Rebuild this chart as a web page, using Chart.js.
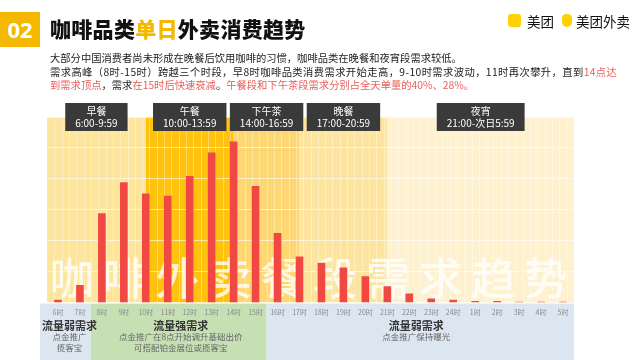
<!DOCTYPE html>
<html>
<head>
<meta charset="utf-8">
<script src="https://cdn.jsdelivr.net/npm/chart.js@4"></script>
<style>
  body { margin: 0; width: 640px; height: 360px; background: #fff; overflow: hidden; position: relative;
         font-family: "Noto Sans CJK SC", "Noto Sans", sans-serif; }
  #myChart { position: absolute; left: 0; top: 0; }
  .num { position: absolute; left: 0; top: 12px; width: 40px; height: 35px; background: #F5B800; color: #fff;
         font: 700 22px "Open Sans", "Noto Sans", sans-serif; line-height: 35px; text-align: center; }
  .title { position: absolute; left: 50px; top: 13px; font-size: 21px; font-weight: 900; color: #111; line-height: 30px;
           letter-spacing: 0.3px; }
  .title span { color: #F5B800; }
  .desc { position: absolute; left: 50px; top: 51px; font-size: 10.3px; line-height: 13.5px; color: #222; white-space: nowrap; }
  .desc .l2 { letter-spacing: 0.4px; }
  .desc .r { color: #EA5E5A; }
  .logo { position: absolute; top: 13px; height: 16px; font-size: 13.5px; line-height: 16px; color: #111; }
  .ico { position: absolute; top: 14px; background: #FFD100; border-radius: 3px; }
</style>
</head>
<body>
<canvas id="myChart" width="640" height="360"></canvas>
<div class="num">02</div>
<div class="title">咖啡品类<span>单日</span>外卖消费趋势</div>
<div class="desc">
大部分中国消费者尚未形成在晚餐后饮用咖啡的习惯，咖啡品类在晚餐和夜宵段需求较低。<br>
<span class="l2">需求高峰（8时-15时）跨越三个时段，早8时咖啡品类消费需求开始走高，9-10时需求波动，11时再次攀升，直到<span class="r">14点达</span></span><br>
<span class="r">到需求顶点</span>，需求<span class="r">在15时后快速衰减</span>。<span class="r">午餐段和下午茶段需求分别占全天单量的40%、28%。</span>
</div>
<div class="ico" style="left:508px;width:13px;height:13px;"></div>
<div class="logo" style="left:527px;">美团</div>
<div class="ico" style="left:562px;width:10px;height:13px;border-radius:5px 5px 6px 6px;"></div>
<div class="logo" style="left:576px;">美团外卖</div>

<script>
var hours = ["6时", "7时", "8时", "9时", "10时", "11时", "12时", "13时", "14时", "15时", "16时", "17时", "18时",
  "19时", "20时", "21时", "22时", "23时", "24时", "1时", "2时", "3时", "4时", "5时"];
// share of daily orders, %
var orderShare = [0.2, 1.4, 7.2, 9.7, 8.8, 8.6, 10.2, 12.1, 13.0, 9.4, 5.6, 3.7, 3.2,
  2.8, 2.1, 1.3, 0.7, 0.3, 0.2, 0.1, 0.1, 0.05, 0.05, 0.05];

// meal periods: name, time range, start/end in category index
var segNames = ["早餐", "午餐", "下午茶", "晚餐", "夜宵"];
var segTimes = ["6:00-9:59", "10:00-13:59", "14:00-16:59", "17:00-20:59", "21:00-次日5:59"];
var segFrom = [-0.5, 4, 8, 11, 15];
var segTo = [4, 8, 11, 15, 23.5];
var segColors = ["#FDE59C", "#FFC20F", "#FDD773", "#FDE59F", "#FEF1CF"];

// traffic groups under the axis
var flowFrom = [-0.5, 1.5, 9.5];
var flowTo = [1.5, 9.5, 23.5];
var flowTitle = ["流量弱需求", "流量强需求", "流量弱需求"];
var flowText = [["点金推广", "揽客宝"], ["点金推广在8点开始调升基础出价", "可搭配铂金展位或揽客宝"], ["点金推广保持曝光"]];
var flowColors = ["#DCE6F1", "#C6E0B4", "#DCE6F1"];

var bigText = "咖啡外卖餐段需求趋势";

function xAt(chart, v) {
  var x = chart.scales.x;
  var step = x.getPixelForValue(1) - x.getPixelForValue(0);
  var i = Math.floor(v);
  return x.getPixelForValue(i) + (v - i) * step;
}

var backPlugin = {
  id: 'back',
  beforeDraw: function(chart) {
    var ctx = chart.ctx, a = chart.chartArea;
    ctx.save();
    for (var i = 0; i < segNames.length; i++) {
      var x0 = i == 0 ? a.left : xAt(chart, segFrom[i]);
      var x1 = i == segNames.length - 1 ? a.right : xAt(chart, segTo[i]);
      ctx.fillStyle = segColors[i];
      ctx.fillRect(x0, a.top, x1 - x0, a.bottom - a.top);
    }
    // thin vertical lines
    var step = (xAt(chart, 1) - xAt(chart, 0)) / 3;
    ctx.strokeStyle = 'rgba(255,255,255,0.35)';
    ctx.lineWidth = 1;
    for (var x = a.left + step; x < a.right - 1; x += step) {
      ctx.beginPath();
      ctx.moveTo(Math.round(x) + 0.5, a.top);
      ctx.lineTo(Math.round(x) + 0.5, a.bottom);
      ctx.stroke();
    }
    // bottom panels
    for (var j = 0; j < flowTitle.length; j++) {
      var f0 = j == 0 ? a.left - 7 : xAt(chart, flowFrom[j]);
      var f1 = j == flowTitle.length - 1 ? a.right : xAt(chart, flowTo[j]);
      ctx.fillStyle = flowColors[j];
      ctx.fillRect(f0, a.bottom + 1, f1 - f0, chart.height - a.bottom);
    }
    ctx.restore();
  },
  beforeDatasetsDraw: function(chart) {
    var ctx = chart.ctx, a = chart.chartArea;
    var w = (a.right - a.left) / bigText.length;
    ctx.save();
    ctx.fillStyle = 'rgba(255,255,255,0.8)';
    ctx.font = '500 44px "Noto Sans CJK SC"';
    ctx.textAlign = 'center';
    ctx.textBaseline = 'middle';
    for (var i = 0; i < bigText.length; i++) {
      ctx.fillText(bigText[i], a.left + (i + 0.47) * w, a.bottom - 24);
    }
    ctx.restore();
  },
  afterDraw: function(chart) {
    var ctx = chart.ctx, a = chart.chartArea;
    ctx.save();
    ctx.textAlign = 'center';
    ctx.textBaseline = 'middle';
    for (var i = 0; i < segNames.length; i++) {
      var x0 = i == 0 ? a.left : xAt(chart, segFrom[i]);
      var x1 = i == segNames.length - 1 ? a.right : xAt(chart, segTo[i]);
      var cx = (x0 + x1) / 2;
      ctx.font = '10px "Noto Sans CJK SC"';
      var bw = Math.max(ctx.measureText(segTimes[i]).width, ctx.measureText(segNames[i]).width) + 20;
      ctx.fillStyle = '#3A3A3A';
      ctx.fillRect(cx - bw / 2, a.top - 14, bw, 28);
      ctx.fillStyle = '#fff';
      ctx.fillText(segNames[i], cx, a.top - 6);
      ctx.fillText(segTimes[i], cx, a.top + 6);
    }
    for (var j = 0; j < flowTitle.length; j++) {
      var f0 = j == 0 ? a.left - 7 : xAt(chart, flowFrom[j]);
      var f1 = j == flowTitle.length - 1 ? a.right : xAt(chart, flowTo[j]);
      var fx = (f0 + f1) / 2 + (j == 0 ? 4 : j == 2 ? -4 : 2);
      ctx.fillStyle = '#333';
      ctx.font = 'bold 11px "Noto Sans CJK SC"';
      ctx.fillText(flowTitle[j], fx, a.bottom + 23);
      ctx.fillStyle = '#666';
      ctx.font = '8.5px "Noto Sans CJK SC"';
      for (var k = 0; k < flowText[j].length; k++) {
        ctx.fillText(flowText[j][k], fx, a.bottom + 34 + k * 11);
      }
    }
    ctx.restore();
  }
};

var ctx = document.getElementById("myChart").getContext('2d');
var myChart = new Chart(ctx, {
  type: 'bar',
  data: {
    labels: hours,
    datasets: [{
      label: '订单占比',
      data: orderShare,
      backgroundColor: '#F24844',
      barThickness: 7
    }]
  },
  options: {
    responsive: false,
    animation: false,
    layout: { padding: { left: 47, right: 66, top: 117, bottom: 37 } },
    plugins: { legend: { display: false }, tooltip: { enabled: false } },
    scales: {
      x: {
        grid: { display: false, drawTicks: false },
        border: { display: false },
        ticks: { color: '#8A8A8A', font: { size: 7, family: 'Noto Sans CJK SC' }, padding: 6, autoSkip: false, maxRotation: 0 }
      },
      y: {
        display: true,
        min: 0, max: 15,
        ticks: { display: false, stepSize: 2.5 },
        grid: { color: 'rgba(255,255,255,0.6)', drawTicks: false },
        border: { display: false }
      }
    }
  },
  plugins: [backPlugin]
});
</script>
</body>
</html>
